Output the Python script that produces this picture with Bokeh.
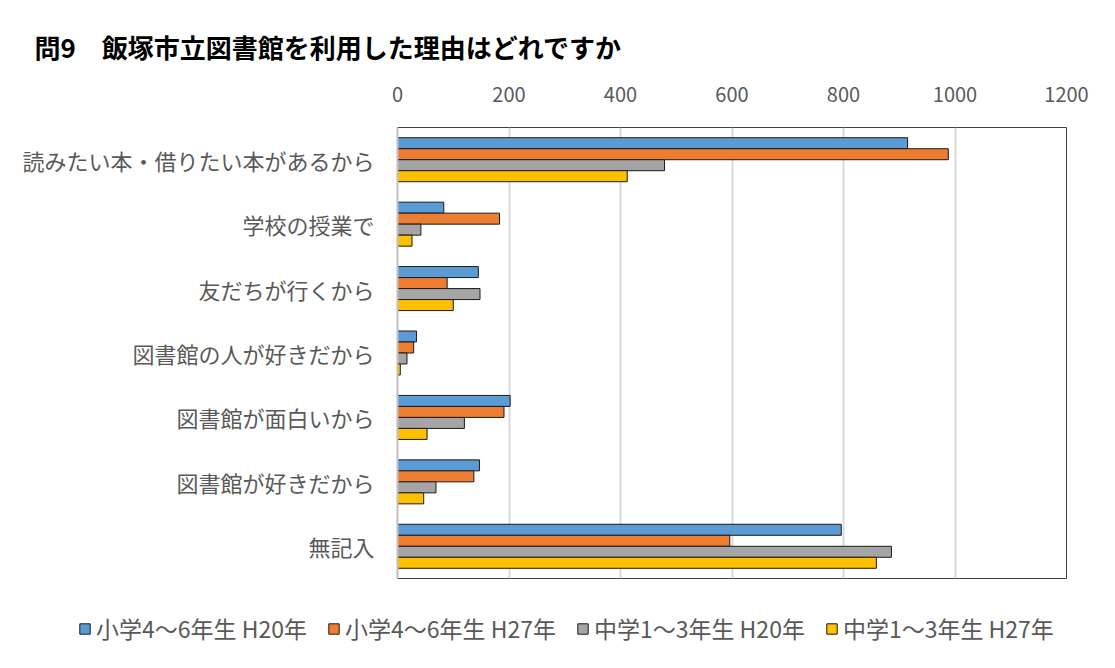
from bokeh.plotting import figure
from bokeh.layouts import column
from bokeh.models import FactorRange, Range1d, FixedTicker, Title, Legend, LegendItem, ColumnDataSource
from bokeh.transform import dodge
from bokeh.embed import file_html
from bokeh.resources import INLINE

categories = ["読みたい本・借りたい本があるから", "学校の授業で", "友だちが行くから",
              "図書館の人が好きだから", "図書館が面白いから", "図書館が好きだから", "無記入"]
elem_h20 = [915, 83, 145, 34, 202, 147, 796]
elem_h27 = [988, 183, 89, 29, 191, 137, 596]
jh_h20 = [479, 42, 148, 17, 120, 69, 886]
jh_h27 = [412, 26, 100, 5, 53, 47, 859]
series_names = ["小学4〜6年生 H20年", "小学4〜6年生 H27年", "中学1〜3年生 H20年", "中学1〜3年生 H27年"]
colors = ["#5B9BD5", "#ED7D31", "#A5A5A5", "#FFC000"]
x_ticks = [0, 200, 400, 600, 800, 1000, 1200]
title_text = "問9　飯塚市立図書館を利用した理由はどれですか"

FONT = "Noto Sans CJK JP"

source = ColumnDataSource(dict(cat=categories, s0=elem_h20, s1=elem_h27, s2=jh_h20, s3=jh_h27))

p = figure(frame_width=669, frame_height=451,
           y_range=FactorRange(*list(reversed(categories))),
           x_range=Range1d(0, 1200),
           x_axis_location="above",
           min_border_left=397, min_border_right=41, min_border_top=127, min_border_bottom=22,
           output_backend="svg", toolbar_location=None)

p.background_fill_color = "white"
p.border_fill_color = "white"
p.outline_line_color = "#404040"
p.outline_line_width = 1

bar_h = 0.1707
offsets = [1.5 * bar_h, 0.5 * bar_h, -0.5 * bar_h, -1.5 * bar_h]
for i, (off, col) in enumerate(zip(offsets, colors)):
    p.hbar(y=dodge("cat", off, range=p.y_range), right=f"s{i}", left=0, height=bar_h,
           source=source, fill_color=col, line_color="#1a1a1a", line_width=1)

# grid
p.ygrid.grid_line_color = None
p.xgrid.ticker = FixedTicker(ticks=x_ticks)
p.xgrid.grid_line_color = "#d9d9d9"
p.xgrid.grid_line_width = 2

# x axis (top)
xa = p.xaxis[0]
xa.ticker = FixedTicker(ticks=x_ticks)
xa.axis_line_color = None
xa.major_tick_line_color = None
xa.minor_tick_line_color = None
xa.major_label_text_font = FONT
xa.major_label_text_font_size = "20px"
xa.major_label_text_color = "#595959"
xa.major_label_standoff = 20

# y axis
ya = p.yaxis[0]
ya.axis_line_color = "#bfbfbf"
ya.axis_line_width = 2
ya.major_tick_line_color = None
ya.minor_tick_line_color = None
ya.major_label_text_font = FONT
ya.major_label_text_font_size = "22px"
ya.major_label_text_color = "#595959"
ya.major_label_standoff = 17

# title
p.add_layout(Title(text=title_text, align="left", offset=-363, standoff=37,
                   text_font=FONT, text_font_size="26px", text_font_style="bold",
                   text_color="black"), "above")

# legend strip (separate figure so the legend is not clipped by the plot frame)
lp = figure(width=1107, height=60, x_range=Range1d(-2, -1),
            y_range=FactorRange(*categories),
            x_axis_location=None, y_axis_location=None,
            min_border_left=0, min_border_right=0, min_border_top=0, min_border_bottom=0,
            output_backend="svg", toolbar_location=None)
lp.outline_line_color = None
lp.grid.grid_line_color = None
lp.background_fill_color = "white"
lp.border_fill_color = "white"
legend_renderers = []
for i, col in enumerate(colors):
    r = lp.hbar(y="cat", right=f"s{i}", left=0, height=0.5, source=source,
                fill_color=col, line_color="#1a1a1a", line_width=1)
    legend_renderers.append(r)

legend = Legend(items=[LegendItem(label=n, renderers=[r]) for n, r in zip(series_names, legend_renderers)],
                orientation="horizontal", location=(78, 15),
                label_text_font=FONT, label_text_font_size="23px", label_text_color="#595959",
                glyph_width=13, glyph_height=13, label_standoff=5, spacing=20,
                padding=0, margin=0, border_line_color=None, background_fill_alpha=0)
lp.add_layout(legend, "center")

for fig in (p, lp):
    if "frame_align" in fig.properties():
        fig.frame_align = False

layout = column(p, lp, spacing=0)
open("out.html", "w").write(file_html(layout, INLINE))
